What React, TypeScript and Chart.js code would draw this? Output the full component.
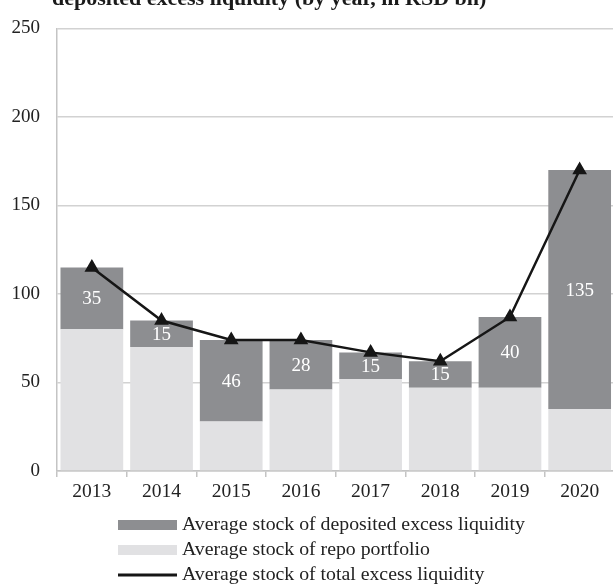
import React, { useEffect, useRef } from "react";
import { Chart, registerables } from "chart.js";

Chart.register(...registerables);

const categories = ["2013", "2014", "2015", "2016", "2017", "2018", "2019", "2020"];
const repoPortfolio = [80, 70, 28, 46, 52, 47, 47, 35];
const depositedExcess = [35, 15, 46, 28, 15, 15, 40, 135];
const totalExcess = [115, 85, 74, 74, 67, 62, 87, 170];
const depositedLabels = ["35", "15", "46", "28", "15", "15", "40", "135"];
const titleText = "deposited excess liquidity (by year, in RSD bn)";
const legendDeposited = "Average stock of deposited excess liquidity";
const legendRepo = "Average stock of repo portfolio";
const legendTotal = "Average stock of total excess liquidity";

const FONT = '"Liberation Serif", "Times New Roman", serif';
const DARK = "#8d8e91";
const LIGHT = "#e1e1e3";
const LINE = "#161616";
const CANVAS_W = 623;

export default function App() {
  const ref = useRef<HTMLCanvasElement | null>(null);
  useEffect(() => {
    const canvas = ref.current;
    if (!canvas) return;

    const labelsPlugin = {
      id: "segLabels",
      afterDatasetsDraw(chart: any) {
        const ctx = chart.ctx;
        const meta = chart.getDatasetMeta(2);
        ctx.save();
        ctx.fillStyle = "#ffffff";
        ctx.font = `19px ${FONT}`;
        ctx.textAlign = "center";
        ctx.textBaseline = "middle";
        meta.data.forEach((el: any, i: number) => {
          const p = el.getProps(["x", "y", "base"], true);
          ctx.fillText(depositedLabels[i], p.x, (p.y + p.base) / 2 + 1);
        });
        ctx.restore();
      },
    };

    const extrasPlugin = {
      id: "extras",
      afterDraw(chart: any) {
        const ctx = chart.ctx;
        ctx.save();
        ctx.fillStyle = "#1a1a1a";
        ctx.font = `bold 22px ${FONT}`;
        ctx.textAlign = "left";
        ctx.textBaseline = "alphabetic";
        ctx.fillText(titleText, 52, 5);
        const x0 = 118;
        const w = 59;
        const tx = 182;
        const rows = [525, 550, 575];
        ctx.fillStyle = DARK;
        ctx.fillRect(x0, rows[0] - 5, w, 10);
        ctx.fillStyle = LIGHT;
        ctx.fillRect(x0, rows[1] - 5, w, 10);
        ctx.strokeStyle = LINE;
        ctx.lineWidth = 3;
        ctx.beginPath();
        ctx.moveTo(x0, rows[2]);
        ctx.lineTo(x0 + w, rows[2]);
        ctx.stroke();
        ctx.fillStyle = "#222222";
        ctx.font = `19.8px ${FONT}`;
        ctx.textBaseline = "middle";
        ctx.fillText(legendDeposited, tx, rows[0]);
        ctx.fillText(legendRepo, tx, rows[1]);
        ctx.fillText(legendTotal, tx, rows[2]);
        ctx.restore();
      },
    };

    const chart = new Chart(canvas, {
      type: "bar",
      data: {
        labels: categories,
        datasets: [
          {
            type: "line",
            label: legendTotal,
            data: totalExcess,
            borderColor: LINE,
            backgroundColor: LINE,
            borderWidth: 2.5,
            pointStyle: "triangle",
            pointRadius: 6,
            pointBackgroundColor: LINE,
            pointBorderColor: LINE,
            tension: 0,
            stack: "line",
            order: 0,
          } as any,
          {
            label: legendRepo,
            data: repoPortfolio,
            backgroundColor: LIGHT,
            stack: "bars",
            order: 1,
            barPercentage: 0.9,
            categoryPercentage: 1.0,
          },
          {
            label: legendDeposited,
            data: depositedExcess,
            backgroundColor: DARK,
            stack: "bars",
            order: 1,
            barPercentage: 0.9,
            categoryPercentage: 1.0,
          },
        ],
      },
      options: {
        responsive: false,
        animation: false,
        layout: { padding: { top: 21, left: 0, right: 0, bottom: 0 } },
        plugins: {
          legend: { display: false },
          tooltip: { enabled: false },
          title: { display: false },
        },
        scales: {
          x: {
            stacked: true,
            offset: true,
            grid: {
              display: true,
              drawOnChartArea: false,
              drawTicks: true,
              tickLength: 6,
              color: "#c4c4c4",
              lineWidth: 1.5,
              offset: true,
            },
            border: { display: true, color: "#c4c4c4", width: 1.5 },
            ticks: {
              color: "#222222",
              font: { family: FONT, size: 19.5 },
              padding: 3,
              maxRotation: 0,
            },
            afterFit(scale: any) {
              scale.height = 115;
              scale.paddingLeft = 0;
              scale.paddingRight = 0;
            },
          },
          y: {
            stacked: true,
            min: 0,
            max: 250,
            ticks: {
              stepSize: 50,
              color: "#222222",
              font: { family: FONT, size: 19 },
              padding: 17,
            },
            grid: {
              drawTicks: false,
              color: "#d2d2d2",
              lineWidth: 1.5,
            },
            border: { display: true, color: "#c4c4c4", width: 1.5 },
            afterFit(scale: any) {
              scale.width = 57;
            },
          },
        },
      },
      plugins: [labelsPlugin, extrasPlugin],
    });
    return () => chart.destroy();
  }, []);

  return (
    <div style={{ position: "absolute", left: 0, top: 0, width: 613, height: 586, overflow: "hidden", background: "#fff" }}>
      <canvas ref={ref} width={CANVAS_W} height={586} style={{ display: "block", width: CANVAS_W, height: 586 }} />
    </div>
  );
}
